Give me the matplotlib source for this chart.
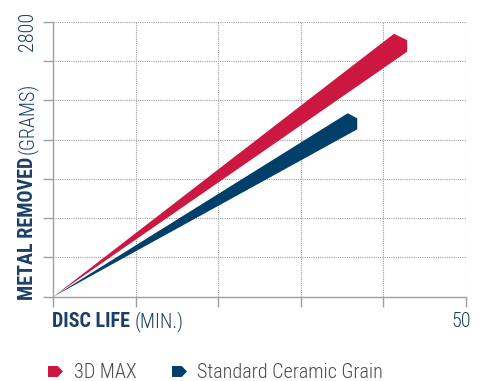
import matplotlib
matplotlib.use("Agg")
import matplotlib.pyplot as plt
from matplotlib.path import Path
from matplotlib.lines import Line2D
from matplotlib import font_manager

# ---- data ----
series = ["3D MAX", "Standard Ceramic Grain"]
colors = ["#CC1840", "#003F6A"]
tip_life = [41.3, 35.7]          # minutes at upper tip
tip_metal = [2680, 1870]         # grams at upper tip
end_life = [42.9, 36.85]         # minutes at right end
end_metal_high = [2615, 1818]    # grams, upper corner of right end
end_metal_low = [2497, 1706]     # grams, lower corner of right end
x_ticks = [0, 10, 20, 30, 40, 50]
y_ticks = [0, 400, 800, 1200, 1600, 2000, 2400, 2800]

names = {f.name for f in font_manager.fontManager.ttflist}
FONT = "Roboto"
for cand in ["Roboto Condensed", "Barlow Condensed", "Asap Condensed", "Archivo Narrow"]:
    if cand in names:
        FONT = cand
        break
plt.rcParams["font.family"] = [FONT, "DejaVu Sans"]
TXT = "#1B3F66"
GRID = "#A0A0A0"

W, H = 483, 381
fig = plt.figure(figsize=(W / 100, H / 100), dpi=100)
ax = fig.add_axes([53.3 / W, 1 - 296.7 / H, (465.7 - 53.3) / W, (296.7 - 22) / H])
ax.set_xlim(0, 50)
ax.set_ylim(0, 2800)

for s in ["top", "right"]:
    ax.spines[s].set_visible(False)
for s in ["left", "bottom"]:
    ax.spines[s].set_color(GRID)
    ax.spines[s].set_linewidth(1.0)

ax.set_xticks(x_ticks)
ax.set_yticks(y_ticks)
ax.set_xticklabels([])
ax.set_yticklabels([])
ax.tick_params(axis="both", direction="out", length=7, color=GRID, width=1.0)
ax.grid(True, linestyle=(0, (1, 1)), color=GRID, linewidth=0.8)
ax.set_axisbelow(True)

for i in range(len(series)):
    xs = [0, tip_life[i], end_life[i], end_life[i]]
    ys = [0, tip_metal[i], end_metal_high[i], end_metal_low[i]]
    ax.fill(xs, ys, color=colors[i], lw=0, zorder=3)

fig.canvas.draw()
r = fig.canvas.get_renderer()
FS = 14.5

def fx(x):
    return x / W

def fy(y):
    return 1 - y / H

# x label
t1 = fig.text(fx(52.5), fy(327.3), "DISC LIFE", fontsize=FS, fontweight="bold", color=TXT,
              va="baseline", ha="left")
bb = t1.get_window_extent(r)
fig.text((bb.x1 + 4) / W, fy(327.3), "(MIN.)", fontsize=FS, fontweight="light", color=TXT,
         va="baseline", ha="left")
fig.text(fx(471), fy(327.3), "50", fontsize=FS, fontweight="light", color=TXT,
         va="baseline", ha="right")

# y label (rotated, baseline vertical at x=32.7)
t2 = fig.text(fx(32.7), fy(300), "METAL REMOVED", fontsize=FS, fontweight="bold", color=TXT,
              rotation=90, rotation_mode="anchor", va="baseline", ha="left")
bb2 = t2.get_window_extent(r)
fig.text(fx(32.7), (bb2.y1 + 3) / H, "(GRAMS)", fontsize=FS, fontweight="light", color=TXT,
         rotation=90, rotation_mode="anchor", va="baseline", ha="left")
fig.text(fx(32.7), fy(11.7), "2800", fontsize=FS, fontweight="light", color=TXT,
         rotation=90, rotation_mode="anchor", va="baseline", ha="right")

# legend (manual)
flag = Path([(-1, -0.73), (0.3, -0.73), (1, 0), (0.3, 0.73), (-1, 0.73), (-1, -0.73)],
            [Path.MOVETO, Path.LINETO, Path.LINETO, Path.LINETO, Path.LINETO, Path.CLOSEPOLY])
marker_x = [54.8, 178.5]
text_x = [74.3, 197]
for i in range(len(series)):
    fig.add_artist(Line2D([fx(marker_x[i])], [fy(370.5)], transform=fig.transFigure,
                          linestyle="none", marker=flag, markersize=10.8,
                          markerfacecolor=colors[i], markeredgecolor="none"))
    fig.text(fx(text_x[i]), fy(377.7), series[i], fontsize=FS, fontweight="light",
             color="#4A4A4A", va="baseline", ha="left")

fig.savefig("out.png", dpi=100)
